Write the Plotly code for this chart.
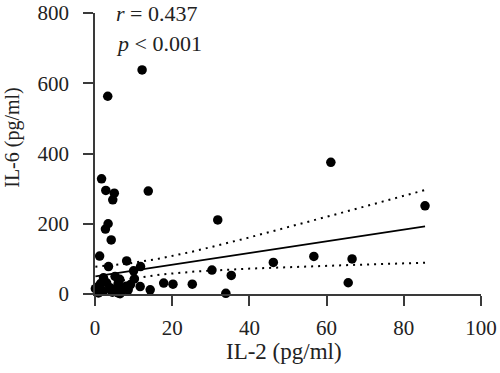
import numpy as np
import plotly.graph_objects as go

il2 = [12.2, 3.3, 1.7, 2.8, 5.0, 4.6, 13.8, 3.4, 2.7, 4.2,
       31.8, 61.1, 85.5, 56.7, 66.6, 65.6, 46.2, 30.3, 35.3, 25.2,
       33.9, 11.8, 14.3, 17.8, 20.2, 11.7, 8.2, 10.0, 1.2, 3.5,
       10.2, 8.6, 6.5, 2.2, 5.2, 0.1, 3.0, 6.4, 8.0, 0.9,
       6.0, 3.9, 0.9, 2.2, 6.0, 9.2, 4.5, 1.5, 5.0, 7.0]
il6 = [638, 563, 328, 295, 287, 268, 293, 200, 185, 154,
       211, 375, 251, 107, 100, 32, 90, 68, 53, 28,
       2, 78, 12, 31, 28, 21, 94, 66, 108, 78,
       43, 12, 1, 46, 50, 15, 32, 42, 22, 3,
       3, 18, 22, 8, 30, 27, 5, 30, 12, 10]

# regression line and 95% confidence band
fit_intercept = 50.0
fit_slope = 1.667
band_center_x = 12.0
band_halfwidth_center = 22.0
band_halfwidth_slope = 1.376
fit_x_range = [0.1, 85.5]

x_ticks = [0, 20, 40, 60, 80, 100]
y_ticks = [0, 200, 400, 600, 800]
stats_text = ["<i>r</i> = 0.437", "<i>p</i> < 0.001"]
x_title = "IL-2 (pg/ml)"
y_title = "IL-6 (pg/ml)"

xs = np.linspace(fit_x_range[0], fit_x_range[1], 200)
ys = fit_intercept + fit_slope * xs
hw = np.sqrt(band_halfwidth_center ** 2 + (band_halfwidth_slope * (xs - band_center_x)) ** 2)

font_family = "Liberation Serif, Times New Roman, serif"
axis_col = "#3a3a3a"
txt_col = "#222222"

W, H = 500, 373
plot_left, plot_right, plot_top, plot_bottom = 95, 481, 13, 294.5  # window pixels
L, T = plot_left, plot_top
R = W - plot_right
B = H - plot_bottom


def px_to_paper(px, py):
    fx = (px - L) / (W - L - R)
    fy = (H - B - py) / (H - T - B)
    return fx, fy


fig = go.Figure()
for yy in (ys + hw, ys - hw):
    fig.add_trace(go.Scatter(x=xs, y=yy, mode="lines",
                             line=dict(color="black", width=2, dash="2px,5px"),
                             hoverinfo="skip", cliponaxis=False))
fig.add_trace(go.Scatter(x=xs, y=ys, mode="lines",
                         line=dict(color="black", width=1.6),
                         hoverinfo="skip", cliponaxis=False))
fig.add_trace(go.Scatter(x=il2, y=il6, mode="markers",
                         marker=dict(color="black", size=9.5),
                         cliponaxis=False))

fig.add_annotation(x=5.0, y=800, xref="x", yref="y", text=stats_text[0],
                   showarrow=False, xanchor="left", yanchor="middle",
                   font=dict(family=font_family, size=22, color=txt_col))
fig.add_annotation(x=5.0, y=713, xref="x", yref="y", text=stats_text[1],
                   showarrow=False, xanchor="left", yanchor="middle",
                   font=dict(family=font_family, size=22, color=txt_col))

xt_x, xt_y = px_to_paper(284, 352)
fig.add_annotation(x=xt_x, y=xt_y, xref="paper", yref="paper", text=x_title,
                   showarrow=False, xanchor="center", yanchor="middle",
                   font=dict(family=font_family, size=23, color=txt_col))
yt_x, yt_y = px_to_paper(13, 138)
fig.add_annotation(x=yt_x, y=yt_y, xref="paper", yref="paper", text=y_title,
                   showarrow=False, xanchor="center", yanchor="middle", textangle=-90,
                   font=dict(family=font_family, size=20, color=txt_col))

fig.update_layout(
    width=W, height=H,
    margin=dict(l=L, r=R, t=T, b=B, autoexpand=False),
    plot_bgcolor="white", paper_bgcolor="white",
    showlegend=False,
    font=dict(family=font_family, size=21, color=txt_col),
    xaxis=dict(range=[0, 100], tickvals=x_ticks, showgrid=False, zeroline=False,
               showline=True, linecolor=axis_col, linewidth=1.6,
               ticks="outside", ticklen=10, tickwidth=1.6, tickcolor=axis_col,
               ticklabelstandoff=4, automargin=False),
    yaxis=dict(range=[0, 800], tickvals=y_ticks, showgrid=False, zeroline=False,
               showline=True, linecolor=axis_col, linewidth=1.6,
               ticks="outside", ticklen=10, tickwidth=1.6, tickcolor=axis_col,
               ticklabelstandoff=10, automargin=False),
)

# remove the default page margin so the figure fills the window exactly
fig.write_html("out.html", config={"displayModeBar": False},
               post_script="document.body.style.margin='0px';")
